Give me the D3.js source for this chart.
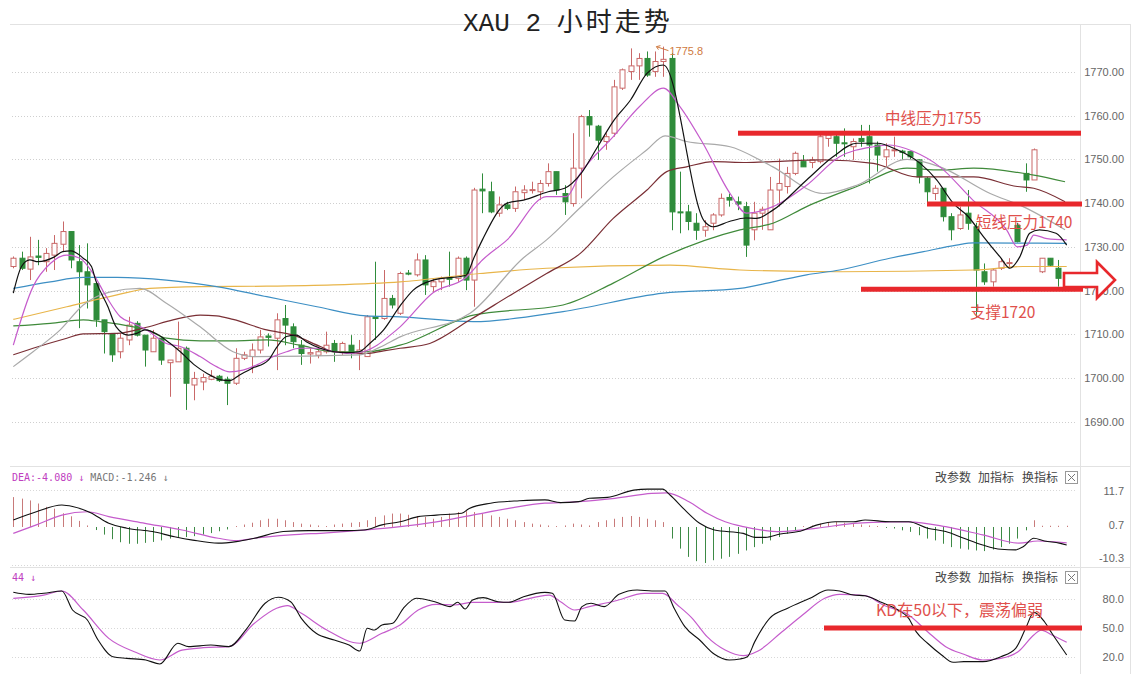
<!DOCTYPE html>
<html><head><meta charset="utf-8">
<script src="https://cdn.jsdelivr.net/npm/d3@7"></script>
<style>body{margin:0;background:#fff}svg{display:block}</style>
</head><body>
<svg id="c" width="1136" height="674"></svg>
<script>
// ---------- DATA ----------
const opens=[1725.5,1727.4,1724.9,1727.9,1726.6,1728.1,1730.6,1733.5,1726.6,1724.3,1721.6,1713.3,1710.2,1706.0,1708.7,1712.5,1709.8,1706.0,1709.1,1703.5,1703.7,1706.8,1698.4,1699.1,1699.7,1700.4,1699.7,1698.8,1704.5,1704.9,1706.4,1709.6,1709.1,1713.6,1711.7,1707.5,1705.5,1705.2,1706.0,1707.9,1706.0,1707.5,1705.6,1704.9,1714.0,1713.6,1718.2,1714.8,1724.0,1723.6,1727.0,1720.9,1722.0,1722.8,1722.8,1727.4,1722.4,1743.2,1742.6,1737.7,1739.6,1738.8,1742.4,1743.0,1742.6,1744.5,1747.2,1742.2,1739.9,1748.0,1759.8,1757.6,1754.1,1756.0,1766.3,1770.1,1771.4,1773.1,1770.1,1772.4,1773.1,1738.0,1738.0,1735.4,1733.8,1735.4,1737.3,1741.3,1740.3,1739.2,1733.9,1737.7,1733.9,1743.0,1743.8,1746.8,1749.5,1749.3,1749.5,1754.8,1755.2,1753.8,1752.9,1754.8,1755.2,1753.3,1750.6,1752.1,1751.9,1751.8,1749.9,1745.7,1742.2,1743.4,1736.9,1734.2,1737.7,1734.6,1724.3,1722.0,1725.1,1726.2,1734.9,1746.8,1745.3,1724.3,1727.4,1725.1,1722.8];
const highs=[1727.8,1728.9,1732.3,1731.6,1729.7,1732.7,1735.8,1733.5,1730.4,1730.8,1721.6,1713.3,1710.2,1710.2,1714.0,1713.0,1709.8,1711.0,1709.1,1704.1,1712.9,1707.2,1701.4,1701.0,1701.8,1700.7,1700.3,1706.8,1706.0,1707.9,1711.0,1710.2,1714.8,1716.7,1712.5,1708.7,1706.8,1706.8,1710.6,1708.7,1708.3,1709.8,1708.7,1714.4,1726.6,1724.7,1719.0,1724.3,1724.7,1728.5,1728.1,1722.8,1723.2,1728.9,1727.8,1727.8,1743.5,1746.8,1744.9,1741.5,1740.3,1743.8,1744.1,1744.9,1745.3,1749.1,1747.2,1744.1,1756.0,1760.2,1761.3,1757.9,1756.0,1768.2,1770.8,1775.4,1774.3,1774.7,1774.7,1775.8,1774.3,1747.2,1739.6,1737.7,1736.1,1737.7,1742.2,1742.2,1741.5,1740.3,1740.3,1739.2,1746.0,1750.2,1748.3,1751.8,1751.0,1750.6,1755.6,1756.0,1755.6,1757.1,1754.8,1757.9,1757.9,1754.1,1753.7,1755.2,1752.2,1751.8,1750.0,1746.0,1744.1,1743.4,1737.7,1739.2,1743.0,1735.5,1726.2,1725.1,1727.4,1727.4,1735.5,1749.1,1752.5,1727.4,1727.4,1727.0,1724.0];
const lows=[1725.1,1724.7,1722.4,1725.8,1724.3,1724.7,1728.9,1725.1,1711.4,1715.9,1711.7,1705.6,1703.7,1704.5,1707.5,1709.5,1702.6,1706.0,1703.0,1695.7,1703.7,1692.7,1694.9,1697.2,1699.5,1699.1,1693.8,1698.4,1704.1,1701.1,1705.6,1707.2,1701.8,1707.5,1706.8,1703.0,1703.3,1704.5,1705.6,1703.7,1705.3,1704.5,1701.8,1704.9,1708.7,1713.3,1715.9,1714.4,1723.5,1723.2,1719.0,1719.7,1720.1,1720.9,1722.0,1720.1,1716.3,1737.7,1737.7,1736.9,1738.4,1738.0,1740.7,1742.2,1740.7,1743.8,1741.9,1737.3,1739.2,1741.1,1755.2,1749.9,1752.2,1755.2,1765.9,1768.2,1768.2,1768.9,1768.9,1768.9,1733.8,1733.1,1733.8,1731.6,1732.3,1733.8,1736.9,1739.2,1738.4,1727.7,1731.5,1733.9,1733.9,1739.2,1742.2,1746.4,1748.3,1748.0,1749.1,1752.9,1750.6,1750.6,1749.9,1752.9,1744.5,1747.2,1748.3,1750.6,1749.9,1749.9,1744.5,1739.9,1740.7,1735.8,1731.5,1733.9,1733.9,1714.0,1721.3,1720.9,1724.7,1725.1,1731.0,1742.6,1745.3,1724.0,1725.5,1720.9,1722.0];
const closes=[1727.4,1725.1,1727.7,1727.6,1728.5,1730.8,1733.5,1727.0,1724.3,1721.3,1713.3,1710.6,1705.3,1709.1,1712.1,1709.8,1706.4,1709.1,1704.1,1704.1,1706.8,1698.8,1699.9,1700.1,1700.4,1699.4,1698.8,1704.5,1705.3,1706.4,1709.4,1709.3,1713.3,1712.1,1708.3,1705.6,1705.8,1706.0,1707.5,1706.0,1707.9,1705.6,1706.4,1714.0,1713.6,1718.2,1716.7,1723.9,1723.8,1727.0,1721.3,1722.0,1722.8,1722.6,1727.4,1722.4,1743.0,1742.8,1738.0,1739.6,1738.8,1742.6,1743.0,1743.1,1744.5,1747.2,1743.0,1740.3,1748.0,1759.8,1757.9,1754.4,1755.2,1766.6,1770.5,1771.4,1773.1,1769.3,1772.4,1772.9,1738.0,1737.9,1735.8,1733.8,1734.6,1737.3,1741.1,1740.7,1739.8,1730.4,1737.7,1738.6,1743.0,1744.5,1746.8,1751.4,1748.3,1749.9,1755.2,1755.6,1753.7,1753.6,1754.1,1754.1,1753.3,1751.0,1752.2,1752.2,1751.6,1750.6,1746.0,1742.6,1743.4,1736.9,1733.9,1737.3,1735.4,1724.7,1722.0,1724.7,1726.6,1726.4,1731.2,1745.3,1752.2,1727.4,1725.8,1722.8,1723.6];

// moving averages: [candle index, price]
const ma5=[[1,1719.4],[2,1725.5],[3,1727.0],[4,1726.6],[6,1727.7],[7,1728.9],[8,1729.1],[9.5,1727.4],[10.5,1725.5],[11,1722.4],[12.5,1716.3],[13.5,1711.7],[15,1709.8],[16,1710.2],[17,1711.0],[18.5,1710.0],[20,1708.0],[21.3,1706.0],[23,1703.0],[24.5,1701.1],[26,1699.7],[27.3,1699.4],[28.5,1700.7],[30,1702.2],[32,1704.1],[33,1707.0],[34.2,1709.5],[35.4,1709.8],[36.6,1708.3],[38.3,1706.8],[40,1706.0],[41.5,1705.8],[43,1706.0],[44.3,1707.9],[46,1711.0],[48,1716.5],[49.6,1720.1],[52,1722.4],[56,1723.5],[57,1727.6],[58,1731.6],[61,1740.0],[63,1740.7],[66,1742.6],[68,1743.4],[70,1746.8],[72,1752.9],[74,1759.0],[76,1763.6],[78,1769.7],[80,1771.6],[85,1735.8],[86,1734.6],[88,1735.8],[90,1736.6],[91.3,1736.5],[93.3,1738.4],[97.4,1745.3],[100.6,1750.6],[103.5,1753.7],[106,1753.7],[108.4,1752.2],[111.2,1749.1],[113.2,1745.3],[115.2,1740.0],[117,1737.0],[118.9,1732.3],[120.9,1727.7],[122.1,1725.1],[123.3,1727.7],[124.5,1733.1],[125.7,1733.9],[127.7,1733.1],[129,1730.4]];
const ma10=[[1,1707.5],[3.4,1720.9],[5.5,1726.2],[7.5,1728.1],[9.1,1727.4],[10.7,1723.9],[12.3,1718.6],[14,1714.0],[15.6,1712.5],[17.2,1711.0],[19.6,1707.9],[21.3,1707.2],[23.7,1704.9],[25.7,1702.6],[27.3,1701.4],[28.9,1701.8],[30.6,1703.0],[32.6,1704.9],[34.2,1706.0],[35.8,1706.8],[37.9,1706.8],[39.9,1706.0],[41.9,1705.6],[43.5,1706.0],[45.2,1707.5],[46.8,1709.8],[48,1711.7],[52,1719.5],[56,1723.0],[58,1727.0],[61,1731.6],[65.8,1741.5],[68.2,1741.5],[69.9,1746.8],[73.9,1755.2],[77.1,1762.1],[80,1766.3],[82,1762.1],[84.8,1753.7],[88.1,1742.2],[90.1,1737.7],[93.3,1739.2],[97.4,1744.1],[101.4,1750.6],[105.5,1752.9],[107.5,1753.3],[110.4,1751.8],[113.6,1748.3],[117.6,1740.7],[121.7,1733.9],[123,1730.0],[124.2,1730.4],[125,1732.7],[126.6,1731.9],[129,1731.6]];
const ma20=[[1,1702.6],[3.4,1706.0],[6.7,1711.0],[9.5,1716.7],[12.8,1719.7],[16.4,1720.5],[19.6,1717.1],[23.7,1711.7],[27.7,1706.0],[30.2,1704.9],[43.1,1705.3],[45.5,1707.0],[48,1709.4],[56.5,1714.8],[63,1727.5],[65.8,1731.6],[69.9,1739.0],[73.9,1746.0],[78,1752.2],[80.2,1755.4],[82.8,1754.1],[88.1,1752.9],[91.7,1749.9],[93.3,1748.3],[99.4,1742.2],[103.5,1744.1],[109.6,1750.0],[113.6,1748.3],[119.7,1742.2],[123.7,1739.2],[128.8,1733.9]];
const ma30=[[1,1705.3],[3.4,1706.8],[7.5,1709.1],[9.5,1710.1],[13.6,1710.2],[17.2,1711.6],[20.4,1713.3],[23.7,1714.4],[25.7,1714.2],[27.7,1713.4],[31.8,1711.0],[35,1709.8],[38.3,1707.2],[39.9,1706.0],[43.9,1705.6],[46,1706.2],[48,1706.8],[51.6,1707.9],[56.5,1713.3],[61.8,1719.4],[65.8,1723.9],[69.9,1728.5],[73.9,1736.5],[78,1743.0],[80.4,1747.2],[82.8,1748.3],[86.1,1749.5],[90.1,1749.3],[93.3,1749.5],[99.4,1749.9],[105.5,1749.1],[110.8,1746.0],[117.7,1746.0],[123,1743.8],[125,1743.4],[128.8,1740.3]];
const ma60=[[1,1711.9],[5.5,1712.5],[9.5,1713.3],[11.5,1712.9],[15.6,1711.7],[17.2,1711.0],[19.6,1709.1],[23.7,1708.5],[27.7,1708.5],[31.8,1708.7],[35.8,1707.5],[39.9,1706.0],[43.9,1706.0],[48,1707.5],[56.9,1714.4],[67.8,1716.7],[73.9,1721.7],[80,1727.7],[89.3,1733.9],[93.3,1735.4],[97.4,1739.2],[103.5,1743.8],[109.6,1748.0],[113.6,1747.6],[117.7,1748.0],[125,1746.4],[128.8,1744.9]];
const ma120=[[1,1720.5],[5.5,1722.0],[9.5,1723.0],[13.6,1723.0],[19.6,1722.4],[25.7,1720.9],[31.8,1718.6],[37.9,1716.3],[43.9,1714.2],[48,1714.0],[56.9,1712.9],[67.8,1715.2],[80,1719.4],[89.3,1720.5],[93.3,1722.0],[97.4,1723.6],[101.4,1724.7],[107.5,1727.4],[111.6,1728.9],[115.6,1730.4],[117.7,1730.9],[129,1730.8]];
const ma250=[[1,1713.4],[7.5,1716.3],[13.6,1719.0],[17.6,1720.5],[23.7,1720.9],[31.8,1721.0],[39.9,1721.3],[48,1722.0],[57.7,1723.9],[65.8,1725.1],[80.8,1725.8],[89.3,1724.7],[101.4,1724.3],[117.7,1724.7],[123.7,1725.5],[129,1725.5]];

const priceTicks=[1690,1700,1710,1720,1730,1740,1750,1760,1770];

// MACD
const macdHist=[9.8,9.3,8.7,7.7,6.6,6.0,4.5,3.5,2.0,0.5,
 -1.0,-2.5,-4.0,-5.0,-5.5,-5.5,-5.2,-4.9,-4.4,-3.8,-3.6,-3.3,-3.0,-2.5,-2.0,-1.4,-0.8,
 0.3,0.8,1.4,2.2,2.7,2.7,2.2,1.6,1.1,0.8,0.5,0.3,0.8,1.1,1.4,1.6,2.2,
 3.3,3.8,4.4,4.4,4.0,3.6,3.3,2.7,3.3,4.4,4.9,5.2,4.9,4.4,3.8,3.3,2.7,2.2,1.6,1.1,0.8,0.5,0.3,
 0.5,1.1,0.8,0.5,1.6,2.2,2.7,3.3,3.6,3.3,2.7,2.2,1.6,
 -3.8,-7.1,-9.8,-11.2,-11.8,-10.9,-10.4,-9.8,-8.8,-7.7,-6.6,-5.5,-4.4,-3.3,-2.2,-1.1,
 0.3,0.5,1.1,1.6,1.6,1.4,1.1,0.8,0.5,0.3,-0.3,
 -0.5,-1.1,-1.6,-2.7,-3.8,-4.4,-5.5,-6.6,-7.1,-7.4,-7.7,-7.9,-7.4,-6.6,-5.5,-3.8,
 -1.1,2.2,0.4,0.4,0.4,0.4];
const difLine=[[1,2.3],[3.8,5.0],[6.9,7.2],[8.2,6.7],[10.4,4.7],[12.6,1.2],[14.8,-0.4],[17.9,-1.5],[20.6,-3.2],[22.8,-4.3],[25.9,-5.3],[28.1,-4.8],[30.3,-3.7],[33.8,-1.5],[36.9,-1.2],[41.3,-1.2],[43.6,-1.0],[45.8,0.7],[48,1.7],[50.2,3.4],[52.4,3.9],[55.5,4.5],[56.4,6.1],[59,7.8],[62.5,8.6],[65.6,8.9],[67.5,8.0],[69.7,8.3],[71,9.4],[73.2,9.7],[76.4,12.1],[78.1,12.4],[79.9,12.4],[80.8,10.5],[82.6,5.6],[84.4,1.2],[86.2,-1.0],[89.7,-2.1],[91.1,-3.4],[92.4,-3.4],[94.2,-2.3],[96.4,-1.5],[98.7,0.7],[100.9,1.7],[103.1,1.7],[104.5,2.3],[107.6,1.7],[109.8,1.7],[112.1,-0.4],[114.3,-1.5],[116.5,-3.7],[118.8,-5.9],[121,-7.3],[122.8,-7.5],[123.7,-6.5],[125,-3.7],[126.3,-4.6],[128.1,-5.3],[129,-5.9]];
const deaLine=[[1,-2.1],[3.8,0.7],[6.9,3.9],[10,5.0],[12.6,3.4],[17,1.2],[21.5,-1.0],[25.9,-3.7],[28.1,-4.5],[30.3,-3.7],[34.7,-2.6],[39.1,-1.9],[43.6,-1.0],[48,0.1],[52.4,1.7],[56.8,3.9],[61.2,6.1],[65.6,7.8],[67.5,8.0],[69.7,8.3],[74.1,9.4],[78.6,11.0],[80.4,11.2],[83.1,8.3],[85.3,4.5],[87.5,1.7],[89.7,0.1],[92,-1.0],[94.2,-1.5],[98.7,-0.4],[103.1,1.2],[107.6,1.7],[109.8,1.7],[114.3,0.1],[118.8,-2.6],[123.2,-5.3],[125.5,-4.6],[129,-5.2]];
const macdTicks=[11.7,0.7,-10.3];

// KD
const kLine=[[1,86.9],[2.9,84.8],[4.7,85.9],[6.9,88.3],[8.2,68.6],[10,58.3],[11.3,37.6],[13.1,20.3],[14.8,18.6],[17.1,16.9],[18.8,12.8],[21,34.2],[22.3,30.7],[25,32.4],[27.2,30.7],[29.4,49.7],[31.6,75.6],[33.2,81.8],[34.7,77.2],[36,60.0],[37.8,44.5],[40,37.6],[41.8,32.4],[43.1,26.2],[44,49.7],[44.9,47.9],[45.8,53.1],[47.1,54.9],[48.4,70.4],[50,80.7],[52.4,76.6],[54.1,72.1],[55,76.6],[55.9,69.7],[56.8,79.0],[58.1,81.4],[59.9,77.2],[61.2,76.6],[63,82.4],[65.6,86.9],[66.5,85.9],[68,58.3],[69.2,57.2],[70.1,72.1],[71.2,75.6],[72.8,72.1],[74.6,84.8],[76.8,89.3],[78.6,88.3],[80.2,88.3],[81.3,70.4],[82.6,51.4],[84.4,37.6],[86.2,22.8],[88,16.9],[89.3,17.9],[90.2,20.3],[91.1,35.9],[92.9,60.0],[95.1,70.4],[97.8,80.7],[100,89.3],[101.4,88.3],[103.1,84.1],[104.5,83.4],[106.3,77.2],[108.5,68.6],[109.8,60.0],[110.7,46.2],[112.1,34.2],[113.8,22.1],[115.2,14.5],[116.5,15.2],[118.8,15.2],[121,20.3],[122.8,29.0],[124.1,51.4],[125,66.2],[126.3,56.5],[127.2,44.5],[129,22.1]];
const dLine=[[1,80.7],[4.7,84.1],[6.9,88.3],[9.5,68.6],[12.6,39.3],[15.7,25.5],[18.8,16.9],[21.5,27.2],[24.1,29.6],[27.2,30.7],[30.3,54.9],[33,70.4],[34.3,73.1],[36,65.2],[39.1,47.9],[43.1,34.2],[45.8,44.5],[48,53.1],[50.2,68.6],[52.4,74.5],[54.6,73.8],[56.8,76.6],[61.2,76.6],[66.1,84.1],[67.5,77.2],[69.2,68.6],[71,72.1],[74.1,77.9],[77.7,85.9],[79.9,85.9],[81.7,73.8],[83.5,60.0],[85.3,41.0],[87.5,27.2],[89.7,21.4],[91.5,26.2],[94.2,44.5],[96.9,63.4],[99.6,80.7],[101.4,84.8],[104.5,83.4],[106.7,73.8],[109.8,63.4],[112.1,46.2],[114.3,30.7],[116.5,22.8],[118.8,16.9],[121,18.6],[123.2,26.2],[125,42.8],[125.9,47.9],[127.2,42.8],[129,35.2]];
const kdTicks=[80,50,20];

// annotation levels
const resistMid=1756.0, resistShort=1739.8, support=1720.3, kdLevel=50;
const highMark=1775.8;

// ---------- DRAWING ----------
const svg=d3.select('#c');
svg.append('rect').attr('width',1136).attr('height',674).attr('fill','#fff');

const x=d3.scaleLinear().domain([1,129]).range([13.3,1066.7]);
const y=d3.scaleLinear().domain([1690,1770]).range([421.7,72]);
const yM=d3.scaleLinear().domain([-10.3,11.7]).range([558.4,491.3]);
const yK=d3.scaleLinear().domain([20,80]).range([657,599]);

const sans='"Liberation Sans","DejaVu Sans",sans-serif';
const mono='"DejaVu Sans Mono","Liberation Mono",monospace';
const cjk='"Noto Sans CJK SC","Noto Sans",sans-serif';

// frame lines
const frame=svg.append('g').attr('stroke','#e2e2e2').attr('stroke-width',1);
frame.append('line').attr('x1',10).attr('x2',1130).attr('y1',24.5).attr('y2',24.5);
frame.append('line').attr('x1',10).attr('x2',1130).attr('y1',466.5).attr('y2',466.5);
frame.append('line').attr('x1',10).attr('x2',1130).attr('y1',567.5).attr('y2',567.5);
frame.append('line').attr('x1',1080.5).attr('x2',1080.5).attr('y1',24).attr('y2',674);
frame.append('line').attr('x1',1130.5).attr('x2',1130.5).attr('y1',24).attr('y2',674);

// title
const title=svg.append('text').attr('x',463).attr('y',30.5).attr('font-size',26).attr('fill','#222');
title.append('tspan').attr('font-family','"Liberation Mono",monospace').text('XAU 2 ');
title.append('tspan').attr('font-family',cjk).attr('letter-spacing',3).text('小时走势');

// main grid + axis labels
const grid=svg.append('g');
priceTicks.forEach(v=>{
  grid.append('line').attr('x1',12).attr('x2',1076).attr('y1',Math.round(y(v))+0.5).attr('y2',Math.round(y(v))+0.5)
    .attr('stroke','#cfcfcf').attr('stroke-dasharray','1,2');
  grid.append('text').attr('x',1124).attr('y',y(v)+4).attr('text-anchor','end')
    .attr('font-family',sans).attr('font-size',11).attr('fill','#666').text(v.toFixed(2));
});

// candles
const upC='#c96868', dnC='#2f8c3b';
const cg=svg.append('g');
closes.forEach((c,k)=>{
  const i=k+1, o=opens[k], up=c>=o, col=up?upC:dnC, cx=Math.round(x(i))+0.5;
  cg.append('line').attr('x1',cx).attr('x2',cx).attr('y1',y(highs[k])).attr('y2',y(lows[k])).attr('stroke',col);
  const top=y(Math.max(o,c)), h=Math.max(1,Math.abs(y(o)-y(c)));
  cg.append('rect').attr('x',cx-2.5).attr('y',top).attr('width',5).attr('height',h)
    .attr('fill',up?'#fff':dnC).attr('stroke',col);
});

// moving averages
const line=d3.line().x(d=>x(d[0])).y(d=>y(d[1])).curve(d3.curveMonotoneX);
[[ma250,'#e8b54a'],[ma120,'#3d8fc4'],[ma60,'#3f8a3a'],[ma30,'#7a2f35'],[ma20,'#a9a9a9'],[ma10,'#c55ccc'],[ma5,'#111']]
 .forEach(([d,c])=>svg.append('path').attr('d',line(d)).attr('fill','none').attr('stroke',c).attr('stroke-width',1.2));

// high marker
const hx=x(80), hy=y(highMark);
svg.append('path').attr('d',`M${hx-7},${hy} L${hx+5},${hy+4} M${hx-7},${hy} l4,-1 M${hx-7},${hy} l2,3`).attr('stroke','#cf7a40').attr('fill','none');
svg.append('text').attr('x',hx+6).attr('y',hy+8).attr('font-family',sans).attr('font-size',11).attr('fill','#cf7a40').text(highMark.toFixed(1));

// annotations
const red='#e8282c', redT='#e0504c';
const ann=svg.append('g');
[[resistMid,738,1081],[resistShort,927,1082],[support,861,1083]].forEach(([v,a,b])=>{
  ann.append('rect').attr('x',a).attr('y',y(v)-2.5).attr('width',b-a).attr('height',5).attr('fill',red);
});
const annText=[['中线压力1755',885,124,15.5],['短线压力1740',976,228,15.5],['支撑1720',970,318,15.5]];
annText.forEach(([t,tx,ty,fs])=>ann.append('text').attr('x',tx).attr('y',ty).attr('font-family',cjk).attr('font-size',fs).attr('fill',redT).text(t));
ann.append('path').attr('d','M1064,273 L1097,273 L1097,262 L1115,280 L1097,298 L1097,287 L1064,287 Z')
  .attr('fill','#fff').attr('stroke',red).attr('stroke-width',2.6).attr('stroke-linejoin','miter');

// ---- MACD panel ----
const mg=svg.append('g');
mg.append('line').attr('x1',12).attr('x2',1076).attr('y1',490.5).attr('y2',490.5).attr('stroke','#d8d8d8').attr('stroke-dasharray','1,2');
mg.append('line').attr('x1',12).attr('x2',1076).attr('y1',565.5).attr('y2',565.5).attr('stroke','#d8d8d8').attr('stroke-dasharray','1,2');
macdTicks.forEach(v=>mg.append('text').attr('x',1124).attr('y',yM(v)+4).attr('text-anchor','end').attr('font-family',sans).attr('font-size',11).attr('fill','#666').text(v.toFixed(1)));
macdHist.forEach((v,k)=>{
  const cx=Math.round(x(k+1))+0.5;
  mg.append('line').attr('x1',cx).attr('x2',cx).attr('y1',yM(0)).attr('y2',yM(v)).attr('stroke',v>=0?'#c87a7a':'#3d8a45');
});
const mline=d3.line().x(d=>x(d[0])).y(d=>yM(d[1])).curve(d3.curveMonotoneX);
mg.append('path').attr('d',mline(deaLine)).attr('fill','none').attr('stroke','#c55ccc').attr('stroke-width',1.2);
mg.append('path').attr('d',mline(difLine)).attr('fill','none').attr('stroke','#111').attr('stroke-width',1.1);
const mh=mg.append('text').attr('x',12).attr('y',481).attr('font-family',mono).attr('font-size',10);
mh.append('tspan').attr('fill','#c040c0').text('DEA:-4.080 ↓ ');
mh.append('tspan').attr('fill','#777').text('MACD:-1.246 ↓');

// ---- KD panel ----
const kg=svg.append('g');
kdTicks.forEach(v=>{
  kg.append('line').attr('x1',12).attr('x2',1076).attr('y1',Math.round(yK(v))+0.5).attr('y2',Math.round(yK(v))+0.5).attr('stroke','#d8d8d8').attr('stroke-dasharray','1,2');
  kg.append('text').attr('x',1124).attr('y',yK(v)+4).attr('text-anchor','end').attr('font-family',sans).attr('font-size',11).attr('fill','#666').text(v.toFixed(1));
});
const kline=d3.line().x(d=>x(d[0])).y(d=>yK(d[1])).curve(d3.curveMonotoneX);
kg.append('path').attr('d',kline(dLine)).attr('fill','none').attr('stroke','#c55ccc').attr('stroke-width',1.2);
kg.append('path').attr('d',kline(kLine)).attr('fill','none').attr('stroke','#111').attr('stroke-width',1.1);
kg.append('text').attr('x',12).attr('y',581).attr('font-family',mono).attr('font-size',10).attr('fill','#c040c0').text('44 ↓');
kg.append('rect').attr('x',824).attr('y',yK(kdLevel)-2.5).attr('width',258).attr('height',5).attr('fill',red);
kg.append('text').attr('x',876).attr('y',616).attr('font-family',cjk).attr('font-size',16).attr('fill',redT).text('KD在50以下，震荡偏弱');

// panel tool labels
[482,582].forEach(ty=>{
  [['改参数',935],['加指标',978],['换指标',1022]].forEach(([t,tx])=>svg.append('text').attr('x',tx).attr('y',ty).attr('font-family',cjk).attr('font-size',12).attr('fill','#444').text(t));
  svg.append('rect').attr('x',1065.5).attr('y',ty-10.5).attr('width',12).attr('height',12).attr('fill','#fff').attr('stroke','#999');
  svg.append('path').attr('d',`M1068,${ty-8} L1075,${ty-1} M1075,${ty-8} L1068,${ty-1}`).attr('stroke','#777');
});
</script>
</body></html>
